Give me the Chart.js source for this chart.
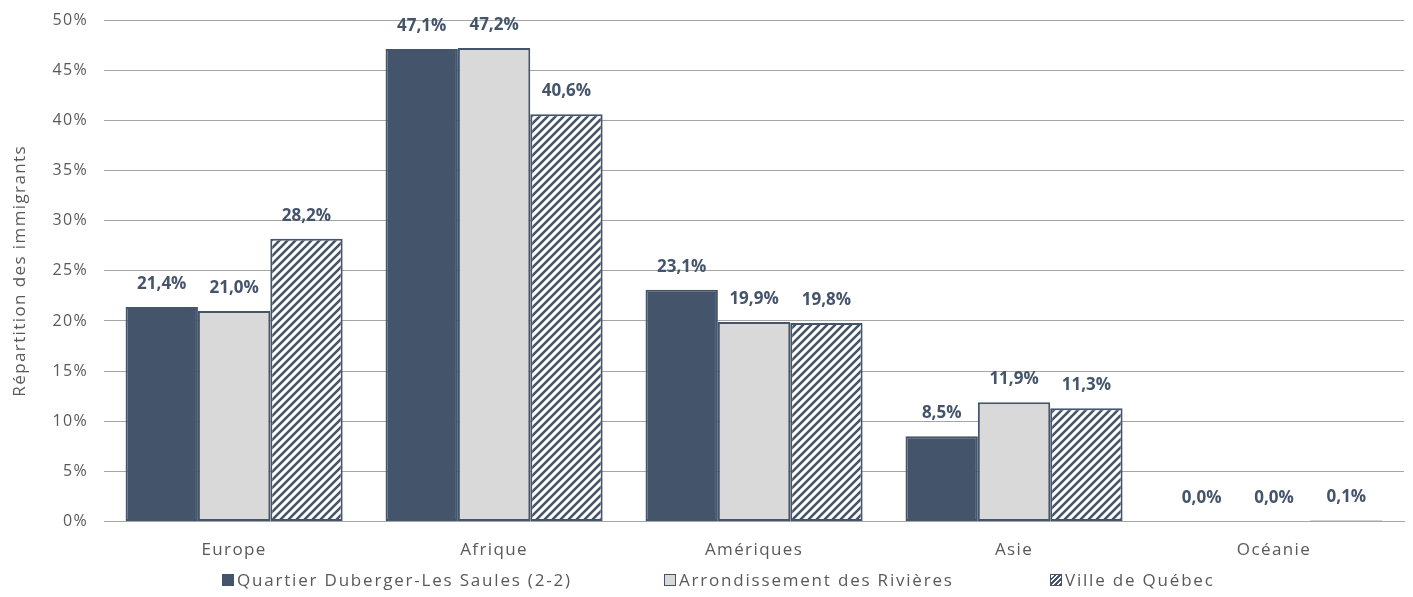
<!DOCTYPE html>
<html>
<head>
<meta charset="utf-8">
<script src="https://cdn.jsdelivr.net/npm/chart.js@4/dist/chart.umd.min.js"></script>
<style>
  html, body { margin: 0; padding: 0; background: #fff; }
  #page { position: relative; width: 1413px; height: 597px; overflow: hidden; }
  #wrap { position: absolute; left: 0; top: 0; width: 1413px; height: 597px; }
  #legend { position: absolute; left: 0; top: 566px; width: 1413px; height: 31px; font-family: "Open Sans", sans-serif;
            font-size: 17px; color: #595959; letter-spacing: 1.8px; }
  .item { position: absolute; top: 2px; display: flex; align-items: center; white-space: nowrap; }
  .box { width: 12px; height: 12px; margin-right: 3px; box-sizing: border-box; border: 1.5px solid #44546a; }
</style>
</head>
<body>
<div id="page">
  <div id="wrap"><canvas id="chart"></canvas></div>
  <div id="legend"></div>
</div>
<script>
// Data
const regions = ['Europe', 'Afrique', 'Amériques', 'Asie', 'Océanie'];
const quartier = [21.4, 47.1, 23.1, 8.5, 0.0];
const arrondissement = [21.0, 47.2, 19.9, 11.9, 0.0];
const ville = [28.2, 40.6, 19.8, 11.3, 0.1];
const seriesNames = ['Quartier Duberger-Les Saules (2-2)', 'Arrondissement des Rivières', 'Ville de Québec'];

const dark = '#44546a';
const light = '#d9d9d9';
const fontFamily = '"Open Sans", sans-serif';

// Diagonal hatch pattern for the city series
function makeHatch() {
  const c = document.createElement('canvas');
  c.width = 8;
  c.height = 8;
  const g = c.getContext('2d');
  g.fillStyle = '#fff';
  g.fillRect(0, 0, 8, 8);
  g.strokeStyle = dark;
  g.lineWidth = 2.6;
  g.beginPath();
  g.moveTo(-2, 10); g.lineTo(10, -2);
  g.moveTo(-6, 6); g.lineTo(6, -6);
  g.moveTo(2, 14); g.lineTo(14, 2);
  g.stroke();
  return g.createPattern(c, 'repeat');
}
const hatch = makeHatch();

// Axis text in the original is letter-spaced
const spacedText = {
  id: 'spacedText',
  beforeLayout(chart) { chart.ctx.letterSpacing = '1.4px'; },
  beforeDraw(chart) { chart.ctx.letterSpacing = '1.4px'; }
};

// Value labels above each bar
const valueLabels = {
  id: 'valueLabels',
  afterDatasetsDraw(chart) {
    const ctx = chart.ctx;
    ctx.save();
    ctx.letterSpacing = '0px';
    ctx.font = 'bold 17px ' + fontFamily;
    ctx.fillStyle = dark;
    ctx.textAlign = 'center';
    ctx.textBaseline = 'middle';
    chart.data.datasets.forEach((ds, i) => {
      chart.getDatasetMeta(i).data.forEach((bar, j) => {
        const txt = ds.data[j].toFixed(1).replace('.', ',') + '%';
        ctx.fillText(txt, bar.x, bar.y - 23);
      });
    });
    ctx.restore();
  }
};

const commonBar = {
  borderColor: dark,
  borderWidth: 2,
  borderSkipped: false,
  barPercentage: 1.0,
  categoryPercentage: 0.835
};

new Chart(document.getElementById('chart'), {
  type: 'bar',
  data: {
    labels: regions,
    datasets: [
      { label: seriesNames[0], data: quartier, backgroundColor: dark, ...commonBar },
      { label: seriesNames[1], data: arrondissement, backgroundColor: light, ...commonBar },
      { label: seriesNames[2], data: ville, backgroundColor: hatch, ...commonBar }
    ]
  },
  options: {
    responsive: true,
    maintainAspectRatio: false,
    animation: false,
    layout: { padding: { left: 2, right: 9, top: 20, bottom: 19 } },
    plugins: {
      legend: { display: false },
      tooltip: { enabled: false }
    },
    scales: {
      x: {
        grid: { display: false, drawTicks: false },
        border: { color: '#a6a6a6' },
        ticks: {
          color: '#595959',
          font: { family: fontFamily, size: 17 },
          padding: 18
        }
      },
      y: {
        min: 0,
        max: 50,
        afterFit(scale) { scale.paddingTop = 0; },
        ticks: {
          stepSize: 5,
          color: '#595959',
          font: { family: fontFamily, size: 16 },
          padding: 16,
          callback: v => v + '%'
        },
        grid: { color: '#a6a6a6', drawTicks: false },
        border: { display: false },
        title: {
          display: true,
          text: 'Répartition des immigrants',
          color: '#595959',
          font: { family: fontFamily, size: 17 },
          padding: { top: 8, bottom: 6 }
        }
      }
    }
  },
  plugins: [spacedText, valueLabels]
});

// HTML legend under the chart
const legendX = [222, 664, 1050];
const legendBg = [dark, light, 'repeating-linear-gradient(-45deg, #44546a 0 1.5px, #fff 1.5px 3.5px)'];
const legend = document.getElementById('legend');
seriesNames.forEach((name, i) => {
  const item = document.createElement('div');
  item.className = 'item';
  item.style.left = legendX[i] + 'px';
  const box = document.createElement('span');
  box.className = 'box';
  box.style.background = legendBg[i];
  const label = document.createElement('span');
  label.textContent = name;
  item.appendChild(box);
  item.appendChild(label);
  legend.appendChild(item);
});
</script>
</body>
</html>
